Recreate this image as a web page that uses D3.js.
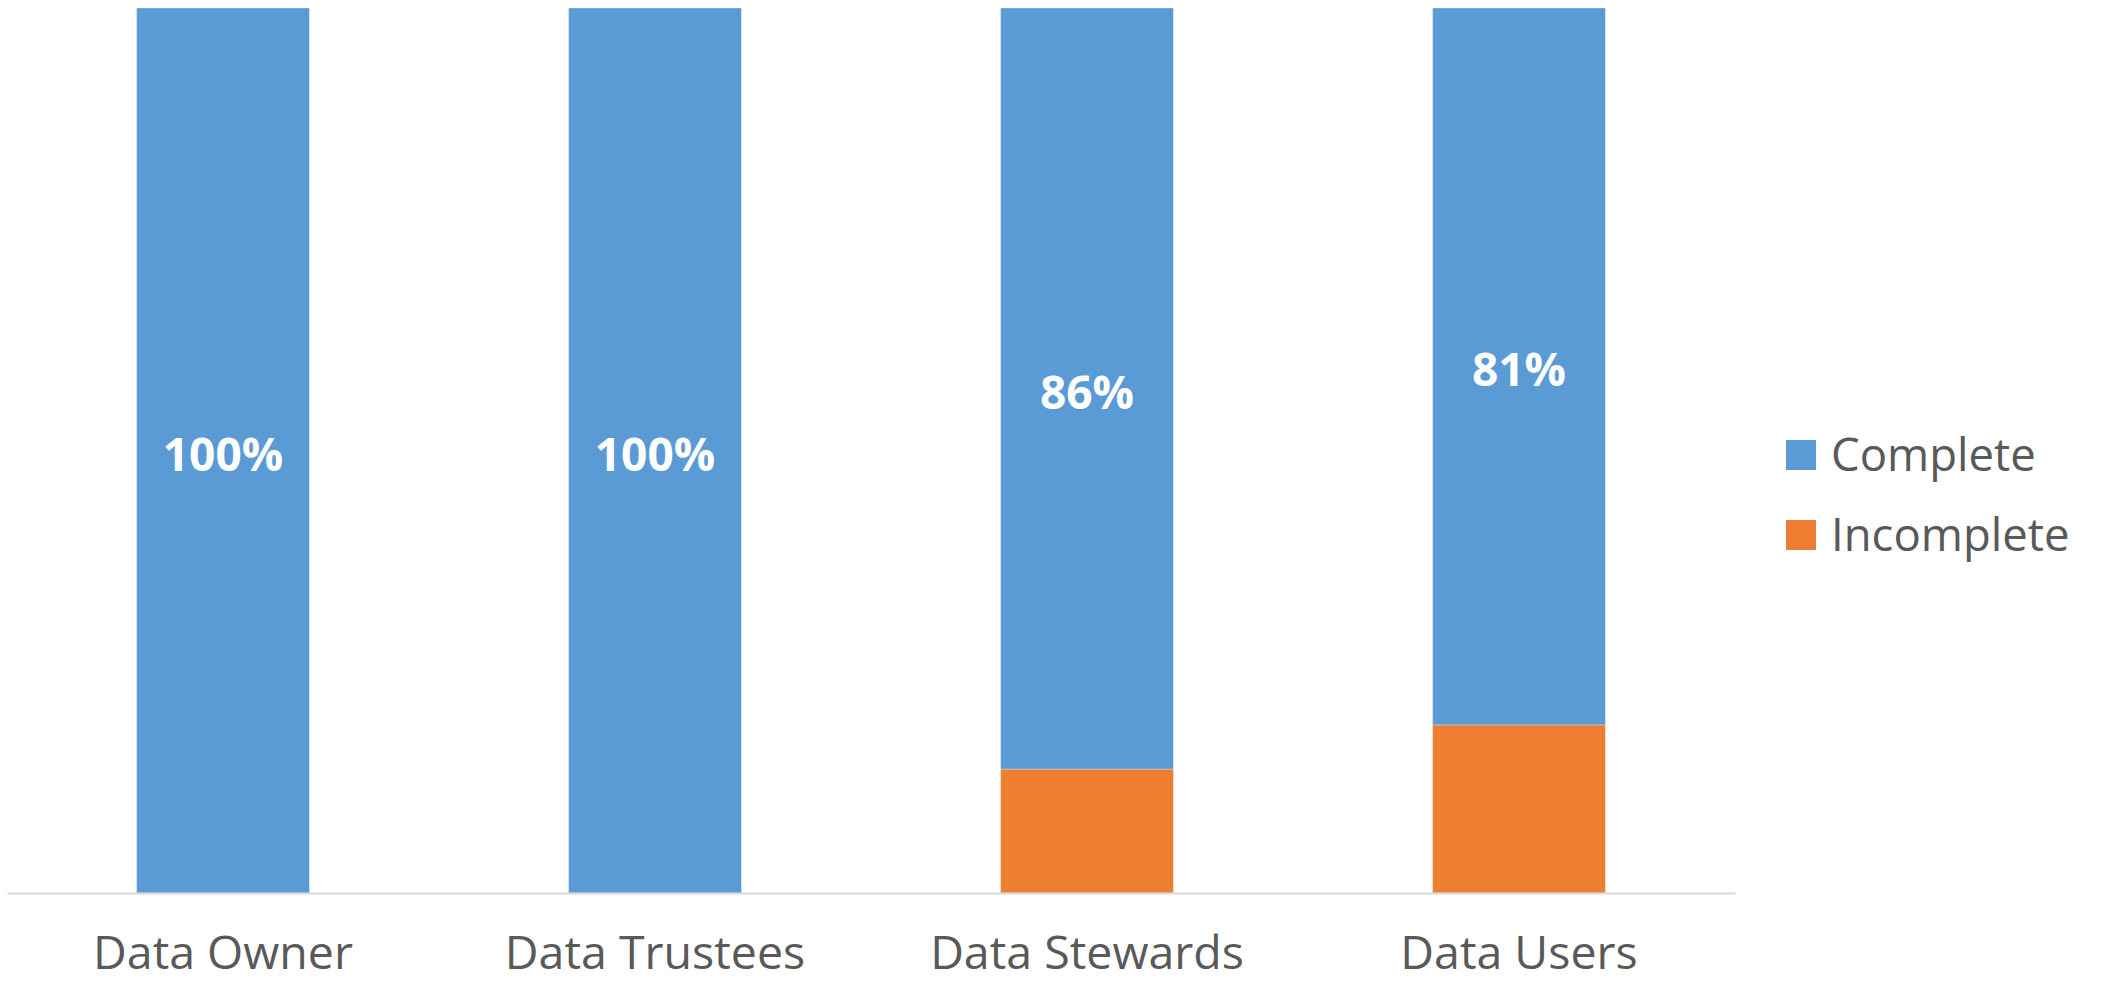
<!DOCTYPE html>
<html>
<head>
<meta charset="utf-8">
<script src="https://cdn.jsdelivr.net/npm/d3@7"></script>
<style>
  html, body { margin: 0; padding: 0; background: #fff; }
  svg { display: block; }
</style>
</head>
<body>
<div id="chart"></div>
<script>
// data
const categories = ["Data Owner", "Data Trustees", "Data Stewards", "Data Users"];
const complete = [100, 100, 86, 81];
const incomplete = [0, 0, 14, 19];
const seriesNames = ["Complete", "Incomplete"];
const colors = ["#5B9BD5", "#ED7D31"];

const width = 2105, height = 984;
const plot = { left: 7, right: 1735, top: 8, bottom: 893 };

const rows = categories.map((c, i) => ({ cat: c, Complete: complete[i], Incomplete: incomplete[i] }));

// Incomplete at the bottom, Complete stacked on top
const stack = d3.stack().keys(["Incomplete", "Complete"]);
const layers = stack(rows);

const x = d3.scaleBand()
  .domain(categories)
  .range([plot.left, plot.right])
  .paddingInner(0.6)
  .paddingOuter(0.3);

const y = d3.scaleLinear()
  .domain([0, 100])
  .range([plot.bottom, plot.top]);

const color = d3.scaleOrdinal().domain(seriesNames).range(colors);

const svg = d3.select("#chart")
  .append("svg")
  .attr("width", width)
  .attr("height", height);

// bars
svg.selectAll("g.layer")
  .data(layers)
  .join("g")
  .attr("class", "layer")
  .attr("fill", d => color(d.key))
  .selectAll("rect")
  .data(d => d.filter(p => p[1] - p[0] > 0))
  .join("rect")
  .attr("x", d => x(d.data.cat))
  .attr("y", d => y(d[1]))
  .attr("width", x.bandwidth())
  .attr("height", d => y(d[0]) - y(d[1]))
  .attr("stroke", "#ffffff")
  .attr("stroke-opacity", 0.3)
  .attr("stroke-width", 1);

// labels on the Complete part
const completeLayer = layers.find(l => l.key === "Complete");
svg.append("g")
  .selectAll("text")
  .data(completeLayer)
  .join("text")
  .attr("x", d => x(d.data.cat) + x.bandwidth() / 2)
  .attr("y", d => (y(d[0]) + y(d[1])) / 2 + 2)
  .attr("text-anchor", "middle")
  .attr("dominant-baseline", "central")
  .style("font-family", "'Open Sans', sans-serif")
  .style("font-weight", "bold")
  .style("font-size", "46px")
  .style("fill", "#ffffff")
  .text(d => d.data.Complete + "%");

// category axis
const xAxis = svg.append("g")
  .attr("transform", `translate(0,${plot.bottom})`)
  .call(d3.axisBottom(x).tickSize(0).tickPadding(0));

xAxis.select(".domain")
  .attr("stroke", "#d9d9d9")
  .attr("stroke-width", 2);

xAxis.selectAll(".tick text")
  .attr("y", 76)
  .attr("dy", 0)
  .style("font-family", "'Open Sans', sans-serif")
  .style("font-size", "46.5px")
  .style("fill", "#595959");

// legend
const legend = svg.append("g")
  .attr("transform", "translate(1786,440)");

const item = legend.selectAll("g")
  .data(seriesNames)
  .join("g")
  .attr("transform", (d, i) => `translate(0,${i * 80})`);

item.append("rect")
  .attr("width", 30)
  .attr("height", 30)
  .attr("fill", d => color(d));

item.append("text")
  .attr("x", 45)
  .attr("y", 15)
  .attr("dy", "0.35em")
  .style("font-family", "'Open Sans', sans-serif")
  .style("font-size", "45.5px")
  .style("fill", "#595959")
  .text(d => d);
</script>
</body>
</html>
